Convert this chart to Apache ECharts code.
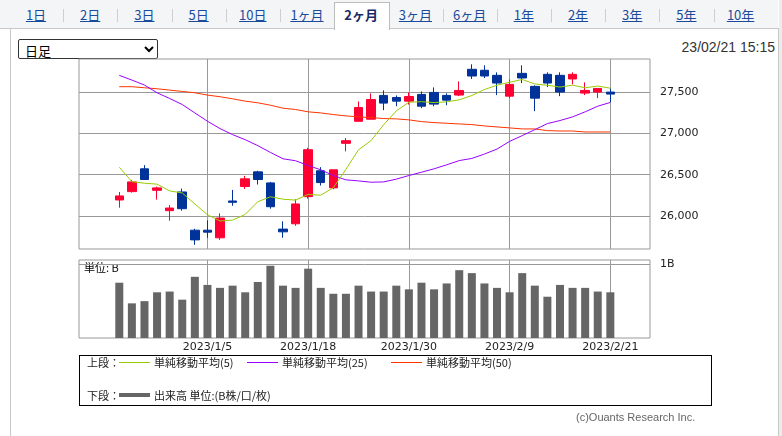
<!DOCTYPE html>
<html><head><meta charset="utf-8">
<script src="https://cdn.jsdelivr.net/npm/echarts@6/dist/echarts.min.js"></script>
<style>
html,body{margin:0;padding:0;width:782px;height:436px;overflow:hidden;background:#fff;font-family:"Noto Sans CJK JP",sans-serif;}
#tabbar{position:absolute;left:0;top:0;width:778px;height:28px;background:#f4f5f7;border-bottom:1px solid #c8c8c8;}
#frame{position:absolute;left:10px;top:28px;width:767px;height:420px;border-left:1px solid #c8c8c8;border-right:1px solid #c8c8c8;}
#strip{position:absolute;left:779px;top:0;width:3px;height:436px;background:#ececec;}
#chart{position:absolute;left:0;top:0;width:782px;height:436px;}
.tab{position:absolute;top:6px;width:54px;height:18px;line-height:18px;text-align:center;font-size:13px;color:#1a4a9c;text-decoration:underline;font-family:"Noto Sans CJK JP",sans-serif;}
.tab.sel{color:#1a2a66;font-weight:bold;text-decoration:none;}
.sep{position:absolute;top:9px;width:1px;height:13px;background:#cfcfcf;}
#seltab{position:absolute;left:334px;top:2px;width:54px;height:27px;background:#fff;border:1px solid #bdbdbd;border-bottom:none;}
#sel{position:absolute;left:18px;top:39px;width:140px;height:20px;font-size:13px;font-family:"Noto Sans CJK JP",sans-serif;border:1px solid #333;border-radius:2px;background:#fff;padding:0 2px;}
#date{position:absolute;right:7px;top:39px;font-size:14px;color:#333;font-family:"Liberation Sans",Arial,sans-serif;}
.lt{position:absolute;height:16px;line-height:16px;font-size:11px;color:#222;white-space:nowrap;font-family:"Noto Sans CJK JP",sans-serif;}
.ll{position:absolute;width:31px;}
#legbox{position:absolute;left:79px;top:355px;width:631px;height:49px;border:1px solid #000;}
#copy{position:absolute;left:576px;top:411px;font-size:11px;color:#666;font-family:"Liberation Sans",Arial,sans-serif;}
</style></head><body>
<div id="tabbar"></div>
<div id="frame"></div>
<div id="strip"></div>
<div id="seltab"></div>
<div id="tabs"></div>
<select id="sel"><option>日足</option></select>
<div id="date">23/02/21 15:15</div>
<div id="chart"></div>
<div id="legbox"></div>
<div class="lt" style="left:87px;top:354px;">上段：</div>
<div class="ll" style="left:119px;top:362px;height:1px;background:#99cc00;"></div>
<div class="lt" style="left:154px;top:354px;">単純移動平均(5)</div>
<div class="ll" style="left:247px;top:362px;height:1px;background:#9900ff;"></div>
<div class="lt" style="left:282px;top:354px;">単純移動平均(25)</div>
<div class="ll" style="left:391px;top:362px;height:1px;background:#ff3300;"></div>
<div class="lt" style="left:426px;top:354px;">単純移動平均(50)</div>
<div class="lt" style="left:87px;top:387px;">下段：</div>
<div class="ll" style="left:119px;top:393px;height:4px;background:#666;"></div>
<div class="lt" style="left:154px;top:387px;">出来高 単位:(B株/口/枚)</div>
<div id="copy">(c)Ouants Research Inc.</div>
<script>
const tabs = ['1日','2日','3日','5日','10日','1ヶ月','2ヶ月','3ヶ月','6ヶ月','1年','2年','3年','5年','10年'];
const selectedTab = 6;
const dates = ['2022/12/23','2022/12/26','2022/12/27','2022/12/28','2022/12/29','2022/12/30','2023/1/4','2023/1/5','2023/1/6','2023/1/10','2023/1/11','2023/1/12','2023/1/13','2023/1/16','2023/1/17','2023/1/18','2023/1/19','2023/1/20','2023/1/23','2023/1/24','2023/1/25','2023/1/26','2023/1/27','2023/1/30','2023/1/31','2023/2/1','2023/2/2','2023/2/3','2023/2/6','2023/2/7','2023/2/8','2023/2/9','2023/2/10','2023/2/13','2023/2/14','2023/2/15','2023/2/16','2023/2/17','2023/2/20','2023/2/21'];
const opens  = [26195,26296,26571,26312,26066,26292,25831,25831,25739,26183,26357,26534,26401,25844,25908,26235,26547,26341,26878,27144,27169,27456,27431,27387,27468,27492,27456,27460,27771,27759,27698,27447,27722,27565,27710,27698,27654,27484,27496,27496];
const closes = [26244,26413,26442,26341,26098,26090,25714,25807,25977,26167,26450,26442,26114,25811,26147,26801,26405,26559,26910,27310,27407,27363,27387,27443,27326,27351,27399,27516,27690,27690,27605,27589,27666,27423,27605,27496,27710,27516,27540,27472];
const lows   = [26102,26284,26442,26199,25945,26066,25654,25739,25714,26126,26328,26381,26090,25739,25884,26211,26369,26324,26781,27144,27169,27278,27326,27346,27302,27326,27338,27447,27654,27666,27460,27423,27605,27266,27557,27447,27589,27460,27423,27375];
const highs  = [26292,26437,26615,26357,26134,26332,25848,25949,26034,26316,26486,26547,26413,25937,26203,26825,26591,26559,26942,27383,27480,27516,27456,27492,27504,27553,27480,27625,27831,27819,27734,27649,27819,27577,27734,27734,27734,27613,27540,27540];
const ma5  = [26590,26416,26397,26386,26304,26280,26147,26017,25942,25952,26021,26174,26234,26205,26193,26262,26253,26343,26565,26800,26912,27103,27269,27374,27380,27370,27378,27403,27455,27527,27579,27615,27648,27594,27578,27557,27579,27548,27569,27543];
const ma25 = [27698,27641,27581,27488,27419,27346,27245,27145,27056,26983,26922,26850,26769,26692,26668,26611,26559,26490,26438,26425,26409,26413,26446,26490,26530,26571,26619,26670,26696,26749,26809,26902,26971,27043,27116,27153,27197,27258,27326,27371];
const ma50 = [27561,27561,27548,27536,27520,27504,27488,27460,27440,27415,27387,27367,27338,27302,27286,27258,27245,27225,27209,27197,27189,27177,27173,27161,27140,27128,27120,27112,27104,27088,27076,27064,27052,27052,27031,27027,27027,27015,27015,27015];
const volume = [0.75,0.47,0.50,0.62,0.63,0.52,0.83,0.72,0.68,0.71,0.62,0.76,0.98,0.71,0.68,0.94,0.68,0.60,0.60,0.71,0.63,0.63,0.71,0.66,0.75,0.66,0.74,0.92,0.88,0.74,0.68,0.62,0.88,0.71,0.56,0.72,0.68,0.68,0.63,0.62];
const dateTickIdx = [7,15,23,31,39];
const priceTicks = [26000,26500,27000,27500];
const volTicks = [1];

// tabs
const tabsEl = document.getElementById('tabs');
tabs.forEach((t,i)=>{
  const c = 36 + i*54.2;
  const d = document.createElement('div');
  d.className = 'tab' + (i===selectedTab?' sel':'');
  d.style.left = (c-27)+'px';
  d.textContent = t;
  tabsEl.appendChild(d);
  if (i < tabs.length-1 && i !== selectedTab && i+1 !== selectedTab) {
    const s = document.createElement('div');
    s.className = 'sep';
    s.style.left = Math.round(c+27.1)+'px';
    tabsEl.appendChild(s);
  }
});

const chart = echarts.init(document.getElementById('chart'), null, {renderer:'canvas'});
const idx = dates.map((d,i)=>i);
const candleData = idx.map(i=>[i, opens[i], closes[i], lows[i], highs[i]]);
const gridLine = {show:true, lineStyle:{color:'#999', width:1}};
const axFont = {color:'#222', fontSize:11, fontFamily:'DejaVu Sans'};
chart.setOption({
  animation:false,
  grid:[
    {left:79, top:59, width:571, height:190, show:true, borderColor:'#999', borderWidth:1, backgroundColor:'transparent'},
    {left:79, top:260, width:571, height:78, show:true, borderColor:'#999', borderWidth:1, backgroundColor:'transparent'}
  ],
  xAxis:[
    {type:'value', gridIndex:0, min:-3.2, max:42.15, axisLine:{show:false}, axisLabel:{show:false},
     axisTick:{show:false, customValues:dateTickIdx}, splitLine:gridLine},
    {type:'value', gridIndex:1, min:-3.2, max:42.15, axisLine:{show:false},
     axisTick:{show:false, customValues:dateTickIdx},
     axisLabel:Object.assign({customValues:dateTickIdx, margin:4, formatter:v=>dates[Math.round(v)]||''}, axFont),
     splitLine:gridLine}
  ],
  yAxis:[
    {type:'value', gridIndex:0, position:'right', min:25604, max:27895, axisLine:{show:false},
     axisTick:{show:true, length:5, customValues:priceTicks, lineStyle:{color:'#999'}},
     axisLabel:Object.assign({customValues:priceTicks, margin:10, formatter:v=>Number(v).toLocaleString('en-US')}, axFont),
     splitLine:gridLine},
    {type:'value', gridIndex:1, position:'right', min:0, max:1.058, axisLine:{show:false},
     axisTick:{show:true, length:5, customValues:volTicks, lineStyle:{color:'#999'}},
     axisLabel:Object.assign({customValues:volTicks, margin:10, formatter:v=>v+'B'}, axFont),
     splitLine:gridLine}
  ],
  graphic:[
    {type:'text', left:84, top:262, style:{text:'単位: B', fill:'#000', font:'11px "Noto Sans CJK JP"'}}
  ],
  series:[
    {type:'candlestick', xAxisIndex:0, yAxisIndex:0, data:candleData, encode:{x:0, y:[1,2,3,4]}, barWidth:9,
     itemStyle:{color:'#ff0033', color0:'#003399', borderColor:'#ff0033', borderColor0:'#003399', borderWidth:1}},
    {type:'line', xAxisIndex:0, yAxisIndex:0, data:idx.map(i=>[i,ma50[i]]), symbol:'none', lineStyle:{color:'#ff3300', width:1}, itemStyle:{color:'#ff3300'}},
    {type:'line', xAxisIndex:0, yAxisIndex:0, data:idx.map(i=>[i,ma25[i]]), symbol:'none', lineStyle:{color:'#9900ff', width:1}, itemStyle:{color:'#9900ff'}},
    {type:'line', xAxisIndex:0, yAxisIndex:0, data:idx.map(i=>[i,ma5[i]]), symbol:'none', lineStyle:{color:'#99cc00', width:1}, itemStyle:{color:'#99cc00'}},
    {type:'bar', xAxisIndex:1, yAxisIndex:1, data:idx.map(i=>[i,volume[i]]), barWidth:8, itemStyle:{color:'#666666'}}
  ]
});
</script>
</body></html>
